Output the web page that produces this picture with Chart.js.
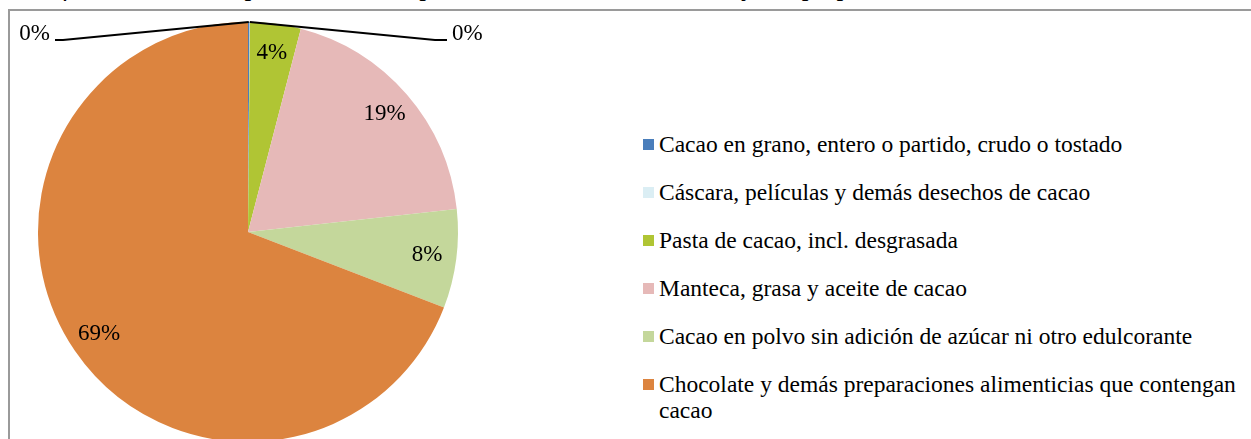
<!DOCTYPE html>
<html>
<head>
<meta charset="utf-8">
<script src="https://cdn.jsdelivr.net/npm/chart.js@4/dist/chart.umd.min.js"></script>
<style>
  html, body { margin: 0; padding: 0; background: #fff; overflow: hidden; }
  body { width: 1251px; height: 439px; position: relative; font-family: "Liberation Serif", "Times New Roman", serif; }
  #titulo { position: absolute; left: 20px; top: -29px; font-size: 27px; font-style: italic; white-space: nowrap; color: #000; }
  #marco { position: absolute; left: 8px; top: 9px; width: 1260px; height: 460px; border: 2px solid #9a9a9a; box-sizing: border-box; background: #fff; }
  #torta { position: absolute; left: 0; top: 0; }
  #leyenda { position: absolute; left: 643px; top: 131px; margin: 0; padding: 0; list-style: none; font-size: 23.5px; color: #000; }
  #leyenda li { position: relative; height: 48px; padding-left: 16px; width: 592px; line-height: 26px; }
  #leyenda li span.caja { position: absolute; left: 0; top: 8px; width: 11px; height: 11px; }
</style>
</head>
<body>
<div id="titulo">Gráfica N. 4: Participación de las exportaciones totales de Cacao y sus preparaciones 2000 – 2012</div>
<div id="marco"></div>
<canvas id="torta" width="500" height="460"></canvas>
<ul id="leyenda"></ul>
<script>
// Productos y su participación (%) en las exportaciones
const categorias = [
  "Cacao en grano, entero o partido, crudo o tostado",
  "Cáscara, películas y demás desechos de cacao",
  "Pasta de cacao, incl. desgrasada",
  "Manteca, grasa y aceite de cacao",
  "Cacao en polvo sin adición de azúcar ni otro edulcorante",
  "Chocolate y demás preparaciones alimenticias que contengan cacao"
];
const valores = [0.12, 0.03, 3.9, 19.2, 7.6, 69.15];
const colores = ["#4a7ebb", "#dbeef4", "#b0c534", "#e6b9b8", "#c4d79b", "#dc843f"];

const total = valores.reduce((a, b) => a + b, 0);

// Etiquetas de porcentaje; las porciones casi nulas llevan línea guía
const etiquetas = {
  id: "etiquetas",
  afterDatasetsDraw(chart) {
    const ctx = chart.ctx;
    const meta = chart.getDatasetMeta(0);
    ctx.save();
    ctx.font = "23px 'Liberation Serif', 'Times New Roman', serif";
    ctx.fillStyle = "#000";
    ctx.textBaseline = "middle";
    let pequenas = 0;
    meta.data.forEach((arc, i) => {
      const p = arc.getProps(["x", "y", "startAngle", "endAngle", "outerRadius"], true);
      const pct = Math.round(valores[i] / total * 100);
      const medio = (p.startAngle + p.endAngle) / 2;
      if (pct >= 1) {
        const r = p.outerRadius * 0.86;
        ctx.textAlign = "center";
        ctx.fillText(pct + "%", p.x + Math.cos(medio) * r, p.y + Math.sin(medio) * r);
        return;
      }
      const lado = pequenas === 0 ? -1 : 1;
      pequenas++;
      const ax = p.x + Math.cos(medio) * p.outerRadius;
      const ay = p.y + Math.sin(medio) * p.outerRadius;
      const codoX = p.x + lado * (lado < 0 ? 185 : 187);
      const finX = p.x + lado * (lado < 0 ? 193 : 199);
      const ly = p.y - p.outerRadius + 18;
      ctx.strokeStyle = "#000";
      ctx.lineWidth = 2;
      ctx.beginPath();
      ctx.moveTo(ax, ay);
      ctx.lineTo(codoX, ly);
      ctx.lineTo(finX, ly);
      ctx.stroke();
      ctx.textAlign = lado < 0 ? "right" : "left";
      ctx.fillText(pct + "%", finX + lado * 5, ly - 6);
    });
    ctx.restore();
  }
};

const grafica = new Chart(document.getElementById("torta"), {
  type: "pie",
  data: {
    labels: categorias,
    datasets: [{
      data: valores,
      backgroundColor: colores,
      borderWidth: 0
    }]
  },
  options: {
    responsive: false,
    animation: false,
    layout: { padding: { left: 38, top: 22, right: 42, bottom: 18 } },
    plugins: {
      legend: { display: false },
      tooltip: { enabled: false }
    }
  },
  plugins: [etiquetas]
});

// Leyenda en HTML para permitir el salto de línea del último rótulo
const ul = document.getElementById("leyenda");
categorias.forEach((c, i) => {
  const li = document.createElement("li");
  li.innerHTML = '<span class="caja" style="background:' + colores[i] + '"></span>' + c;
  ul.appendChild(li);
});
</script>
</body>
</html>
